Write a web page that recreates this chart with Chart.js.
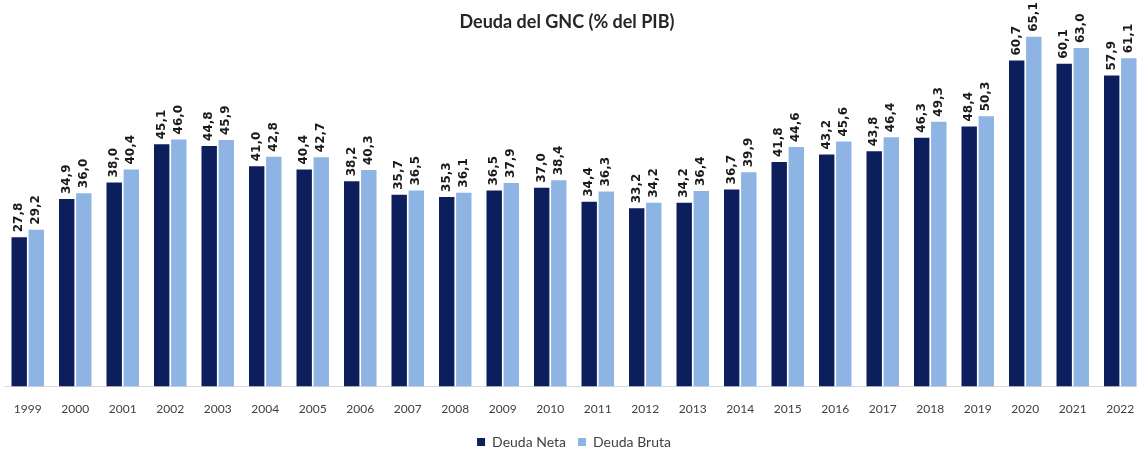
<!DOCTYPE html>
<html>
<head>
<meta charset="utf-8">
<script src="https://cdn.jsdelivr.net/npm/chart.js@4.4.1/dist/chart.umd.min.js"></script>
<style>
  html, body { margin: 0; padding: 0; background: #fff; overflow: hidden; }
  #wrap { width: 1148px; height: 459px; }
</style>
</head>
<body>
<div id="wrap"><canvas id="myChart"></canvas></div>
<script>
// data
const years = ['1999', '2000', '2001', '2002', '2003', '2004', '2005', '2006', '2007', '2008', '2009', '2010',
    '2011', '2012', '2013', '2014', '2015', '2016', '2017', '2018', '2019', '2020', '2021', '2022'];
const deudaNeta = [27.8, 34.9, 38.0, 45.1, 44.8, 41.0, 40.4, 38.2, 35.7, 35.3, 36.5, 37.0,
    34.4, 33.2, 34.2, 36.7, 41.8, 43.2, 43.8, 46.3, 48.4, 60.7, 60.1, 57.9];
const deudaBruta = [29.2, 36.0, 40.4, 46.0, 45.9, 42.8, 42.7, 40.3, 36.5, 36.1, 37.9, 38.4,
    36.3, 34.2, 36.4, 39.9, 44.6, 45.6, 46.4, 49.3, 50.3, 65.1, 63.0, 61.1];
const chartTitle = 'Deuda del GNC (% del PIB)';

// draws the title and the rotated value labels
const labelsPlugin = {
    id: 'labels',
    afterDatasetsDraw(chart) {
        const ctx = chart.ctx;
        ctx.save();
        ctx.fillStyle = '#1a1a1a';
        ctx.font = 'bold 12px "DejaVu Sans", sans-serif';
        ctx.textAlign = 'left';
        ctx.textBaseline = 'middle';
        chart.data.datasets.forEach((ds, i) => {
            chart.getDatasetMeta(i).data.forEach((bar, j) => {
                const txt = ds.data[j].toFixed(1).replace('.', ',');
                ctx.save();
                ctx.translate(bar.x, bar.y - 5);
                ctx.rotate(-Math.PI / 2);
                ctx.fillText(txt, 0, 0);
                ctx.restore();
            });
        });
        ctx.font = 'bold 18px Lato, sans-serif';
        ctx.textAlign = 'center';
        ctx.fillStyle = '#262626';
        ctx.fillText(chartTitle, 567, 22);
        ctx.restore();
    }
};

const config = {
    type: 'bar',
    data: {
        labels: years,
        datasets: [{
                label: 'Deuda Neta',
                data: deudaNeta,
                backgroundColor: '#0c1f5c',
                categoryPercentage: 0.72,
                barPercentage: 0.9
            },
            {
                label: 'Deuda Bruta',
                data: deudaBruta,
                backgroundColor: '#8db4e2',
                categoryPercentage: 0.72,
                barPercentage: 0.9
            }
        ]
    },
    options: {
        responsive: true,
        maintainAspectRatio: false,
        animation: false,
        layout: {
            padding: { top: 32, left: 4, right: 4, bottom: 0 }
        },
        plugins: {
            legend: {
                position: 'bottom',
                labels: {
                    boxWidth: 8,
                    boxHeight: 8,
                    padding: 12,
                    color: '#404040',
                    font: { family: 'Lato', size: 14 }
                }
            },
            title: { display: false },
            tooltip: { enabled: false }
        },
        scales: {
            x: {
                grid: { display: false },
                border: { color: '#d9d9d9', width: 1 },
                ticks: {
                    color: '#404040',
                    padding: 7,
                    maxRotation: 0,
                    font: { family: 'Lato', size: 12 }
                }
            },
            y: {
                display: false,
                min: 0,
                max: 66
            }
        }
    },
    plugins: [labelsPlugin]
};

const myChart = new Chart(document.getElementById('myChart'), config);
</script>
</body>
</html>
